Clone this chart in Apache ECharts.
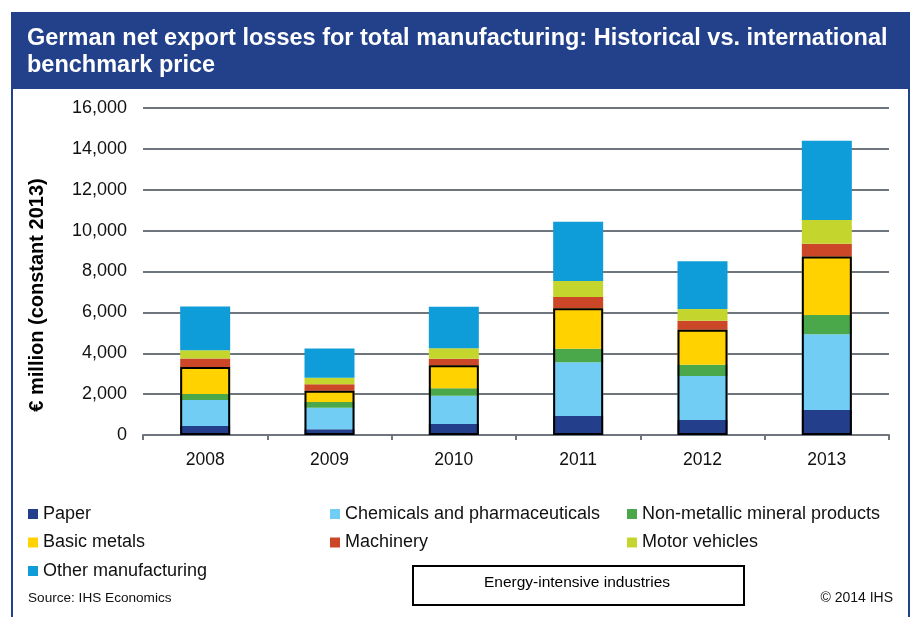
<!DOCTYPE html>
<html>
<head>
<meta charset="utf-8">
<script src="https://cdn.jsdelivr.net/npm/echarts@6/dist/echarts.min.js"></script>
<style>html,body{margin:0;padding:0;background:#fff;}#c{width:914px;height:617px;}</style>
</head>
<body>
<div id="c"></div>
<script>
const years = ['2008', '2009', '2010', '2011', '2012', '2013'];
const paper = [440, 280, 540, 930, 734, 1225];
const chemicals = [1270, 1050, 1385, 2625, 2150, 3700];
const nonMetallic = [300, 280, 360, 670, 555, 945];
const basicMetals = [1320, 550, 1125, 1975, 1715, 2870];
const machinery = [410, 320, 325, 550, 440, 620];
const motorVehicles = [410, 320, 505, 785, 570, 1160];
const otherManufacturing = [2135, 1435, 2040, 2900, 2335, 3880];
const yTicks = [0, 2000, 4000, 6000, 8000, 10000, 12000, 14000, 16000];

const energyIntensive = years.map((_, i) => paper[i] + chemicals[i] + nonMetallic[i] + basicMetals[i]);

const seriesDefs = [
  ['Paper', paper, '#233f8c'],
  ['Chemicals and pharmaceuticals', chemicals, '#71cdf4'],
  ['Non-metallic mineral products', nonMetallic, '#4aa84a'],
  ['Basic metals', basicMetals, '#ffd200'],
  ['Machinery', machinery, '#cc4628'],
  ['Motor vehicles', motorVehicles, '#c4d62e'],
  ['Other manufacturing', otherManufacturing, '#0e9dd8']
];

const FONT = '"Liberation Sans", Arial, sans-serif';
const chart = echarts.init(document.getElementById('c'));

const series = seriesDefs.map(([name, data, color]) => ({
  name, type: 'bar', stack: 'total', data, barWidth: 50, barGap: '-100%',
  itemStyle: { color }, emphasis: { disabled: true }, z: 2
}));
series.push({
  name: 'Energy-intensive industries', type: 'bar', data: energyIntensive, barWidth: 50, barGap: '-100%',
  itemStyle: { color: 'rgba(0,0,0,0)', borderColor: '#000', borderWidth: 2 }, emphasis: { disabled: true }, z: 5
});

const legendBase = {
  orient: 'vertical', icon: 'rect', itemWidth: 10, itemHeight: 10, itemGap: 10.5,
  textStyle: { fontFamily: FONT, fontSize: 18, color: '#111' }, selectedMode: false
};

chart.setOption({
  animation: false,
  title: {
    text: 'German net export losses for total manufacturing: Historical vs. international\nbenchmark price',
    left: 22, top: 20,
    textStyle: { color: '#fff', fontFamily: FONT, fontSize: 23.5, fontWeight: 'bold', lineHeight: 27 }
  },
  graphic: [
    { type: 'rect', z: -10, shape: { x: 11, y: 12, width: 899, height: 76 }, style: { fill: '#22418a' } },
    { type: 'rect', z: -10, shape: { x: 12, y: 88, width: 897, height: 560 }, style: { fill: 'none', stroke: '#22418a', lineWidth: 2 } },
    { type: 'text', x: 37, y: 295, rotation: Math.PI / 2, style: { text: '€ million (constant 2013)', fontFamily: FONT, fontSize: 20, fontWeight: 'bold', fill: '#000', align: 'center', verticalAlign: 'middle' } },
    { type: 'rect', shape: { x: 413, y: 566, width: 331, height: 39 }, style: { fill: '#fff', stroke: '#000', lineWidth: 2 } },
    { type: 'text', x: 577, y: 583, style: { text: 'Energy-intensive industries', fontFamily: FONT, fontSize: 15.5, fill: '#000', align: 'center', verticalAlign: 'middle' } },
    { type: 'text', x: 28, y: 598, style: { text: 'Source: IHS Economics', fontFamily: FONT, fontSize: 13.6, fill: '#111', align: 'left', verticalAlign: 'middle' } },
    { type: 'text', x: 893, y: 598, style: { text: '© 2014 IHS', fontFamily: FONT, fontSize: 14, fill: '#111', align: 'right', verticalAlign: 'middle' } }
  ],
  legend: [
    Object.assign({}, legendBase, { left: 23, top: 500, data: ['Paper', 'Basic metals', 'Other manufacturing'] }),
    Object.assign({}, legendBase, { left: 325, top: 500, data: ['Chemicals and pharmaceuticals', 'Machinery'] }),
    Object.assign({}, legendBase, { left: 622, top: 500, data: ['Non-metallic mineral products', 'Motor vehicles'] })
  ],
  grid: { left: 143, right: 25, top: 108, bottom: 182, containLabel: false },
  xAxis: {
    type: 'category', data: years,
    axisLine: { lineStyle: { color: '#6e757c', width: 2 } },
    axisTick: { show: true, length: 5, lineStyle: { color: '#6e757c', width: 2 } },
    axisLabel: { fontFamily: FONT, fontSize: 17.5, color: '#111', margin: 16 }
  },
  yAxis: {
    type: 'value', min: yTicks[0], max: yTicks[yTicks.length - 1], interval: yTicks[1] - yTicks[0],
    axisLine: { show: false }, axisTick: { show: false },
    splitLine: { lineStyle: { color: '#6e757c', width: 2 } },
    axisLabel: { fontFamily: FONT, fontSize: 18, color: '#111', margin: 16, formatter: v => v.toLocaleString('en-US') }
  },
  series
});
</script>
</body>
</html>
